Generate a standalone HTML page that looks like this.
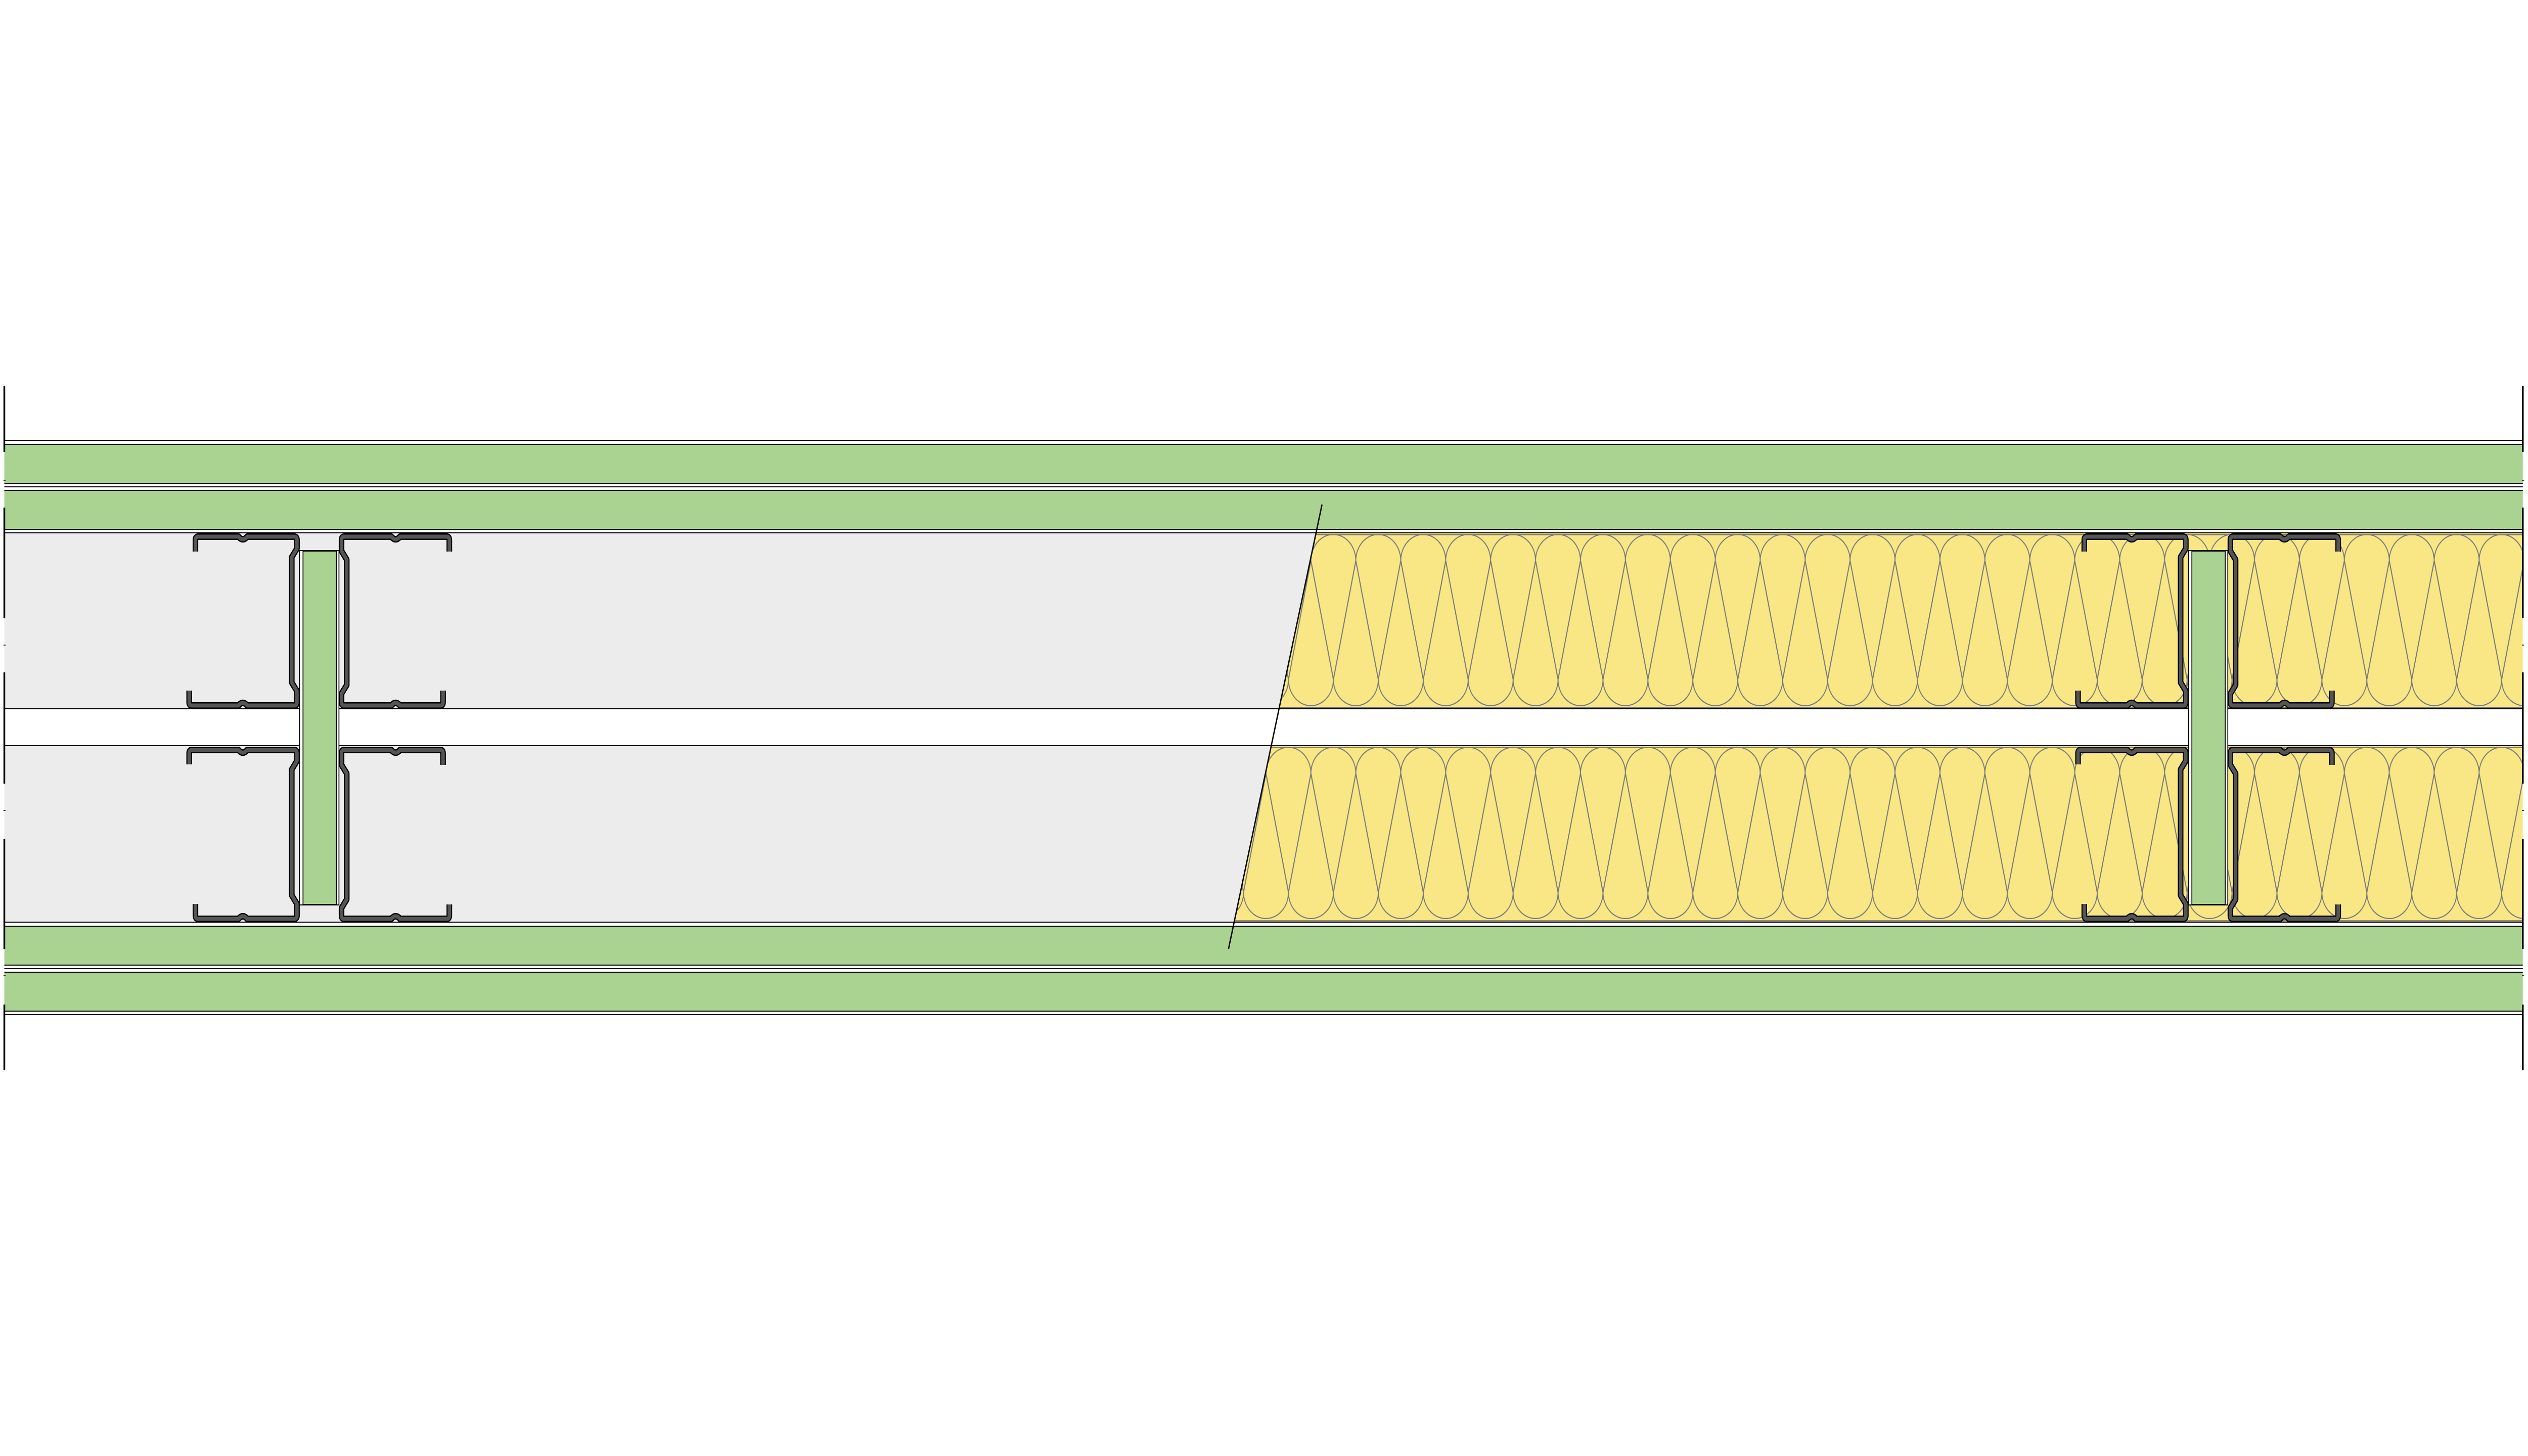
<!DOCTYPE html>
<html><head><meta charset="utf-8"><style>html,body{margin:0;padding:0;background:#fff;width:100%;height:100%;overflow:hidden}svg{display:block;width:100vw;height:100vh}</style></head>
<body>
<svg viewBox="0 0 5840 2880" preserveAspectRatio="none" xmlns="http://www.w3.org/2000/svg">
<defs>
<pattern id="ins" patternUnits="userSpaceOnUse" width="103.8" height="421" patternTransform="translate(4793,1057)">
  <rect x="0" y="0" width="103.8" height="343" fill="#f8e784"/>
  <g fill="none" stroke="#7a7a7a" stroke-width="2.2">
    <path d="M-0.1 52 A51.9 51.9 0 0 1 103.7 52 L51.9 287 Z"/>
    <path d="M-51.9 287 A51.9 51.9 0 0 0 51.9 287 L0 52 Z"/>
    <path d="M51.9 287 A51.9 51.9 0 0 0 155.7 287 L103.8 52 Z"/>
  </g>
</pattern>
<clipPath id="rightOfBreak"><polygon points="3054,998 2838,1877 5828,1877 5828,998"/></clipPath>
<clipPath id="leftOfBreak"><polygon points="0,998 3054,998 2838,1877 0,1877"/></clipPath>
<g id="studU" fill="none" stroke-linejoin="round">
  <path d="M451.5 1091 L451.5 1068 Q451.5 1061.5 458 1061.5 L551 1061.5 Q561 1072 571 1061.5 L680 1061.5 Q686 1061.5 686 1068 L686 1085 L674 1102 L674 1350 L686 1367 L686 1389 Q686 1395.5 680 1395.5 L571 1395.5 Q561 1385 551 1395.5 L443 1395.5 Q437 1395.5 437 1389 L437 1366"/>
</g>
<g id="studL" fill="none" stroke-linejoin="round">
  <path d="M437 1512 L437 1490 Q437 1483.5 443 1483.5 L551 1483.5 Q561 1494 571 1483.5 L680 1483.5 Q686 1483.5 686 1490 L686 1505 L674 1522 L674 1771 L686 1788 L686 1811 Q686 1817.5 680 1817.5 L571 1817.5 Q561 1807 551 1817.5 L458 1817.5 Q451.5 1817.5 451.5 1811 L451.5 1788"/>
</g>
<g id="pair">
  <rect x="692" y="1089" width="91" height="701" fill="#fff" stroke="#000" stroke-width="2"/>
  <rect x="700" y="1090" width="77" height="699" fill="#aad392" stroke="#000" stroke-width="2"/>
  <g stroke="#000" stroke-width="13"><use href="#studU"/><use href="#studL"/>
    <use href="#studU" transform="translate(1475,2457) scale(-1,-1)"/>
    <use href="#studL" transform="translate(1475,3301) scale(-1,-1)"/></g>
  <g stroke="#555" stroke-width="8"><use href="#studU"/><use href="#studL"/>
    <use href="#studU" transform="translate(1475,2457) scale(-1,-1)"/>
    <use href="#studL" transform="translate(1475,3301) scale(-1,-1)"/></g>
</g>
</defs>

<rect x="10" y="1054" width="5818" height="770" fill="#ececec" clip-path="url(#leftOfBreak)"/>
<g clip-path="url(#rightOfBreak)">
  <rect x="10" y="1054" width="5818" height="770" fill="#f8e784"/>
  <rect x="10" y="1057" width="5818" height="765" fill="url(#ins)"/>
  <g stroke="#7a7a7a" stroke-width="2.5">
    <line x1="10" y1="1057.5" x2="5828" y2="1057.5"/><line x1="10" y1="1399.5" x2="5828" y2="1399.5"/>
    <line x1="10" y1="1478.5" x2="5828" y2="1478.5"/><line x1="10" y1="1821.5" x2="5828" y2="1821.5"/>
  </g>
</g>
<rect x="10" y="1402" width="5818" height="73" fill="#fff"/>
<g stroke="#000" stroke-width="2">
  <line x1="10" y1="1402" x2="5828" y2="1402"/><line x1="10" y1="1475" x2="5828" y2="1475"/>
</g>

<g fill="#aad392">
  <rect x="10" y="879" width="5818" height="77"/>
  <rect x="10" y="970" width="5818" height="77"/>
  <rect x="10" y="1832" width="5818" height="77"/>
  <rect x="10" y="1923" width="5818" height="77"/>
</g>
<g stroke="#000" stroke-width="2">
  <line x1="10" y1="871" x2="5828" y2="871"/><line x1="10" y1="879" x2="5828" y2="879"/>
  <line x1="10" y1="956" x2="5828" y2="956"/><line x1="10" y1="963" x2="5828" y2="963"/>
  <line x1="10" y1="970" x2="5828" y2="970"/><line x1="10" y1="1047" x2="5828" y2="1047"/>
  <line x1="10" y1="1054" x2="5828" y2="1054"/>
  <line x1="10" y1="1824" x2="5828" y2="1824"/><line x1="10" y1="1832" x2="5828" y2="1832"/>
  <line x1="10" y1="1909" x2="5828" y2="1909"/><line x1="10" y1="1916" x2="5828" y2="1916"/>
  <line x1="10" y1="1923" x2="5828" y2="1923"/><line x1="10" y1="2000" x2="5828" y2="2000"/>
  <line x1="10" y1="2007" x2="5828" y2="2007"/>
</g>

<use href="#pair"/>
<use href="#pair" transform="translate(4363.5,0)"/>

<line x1="3054" y1="998" x2="2838" y2="1877" stroke="#000" stroke-width="3"/>

<g stroke="#000" stroke-width="4">
  <path d="M10 764 V894 M10 1004 V1223 M10 1330 V1550 M10 1659 V1877 M10 1987 V2117"/>
  <path d="M5828 764 V894 M5828 1004 V1223 M5828 1330 V1550 M5828 1659 V1877 M5828 1987 V2117"/>
</g>
<g stroke="#000" stroke-width="1.5">
  <path d="M8 950 h5 M8 1276 h5 M8 1603 h5 M8 1930 h5"/>
  <path d="M5826 950 h5 M5826 1276 h5 M5826 1603 h5 M5826 1930 h5"/>
</g>
</svg>
</body></html>
